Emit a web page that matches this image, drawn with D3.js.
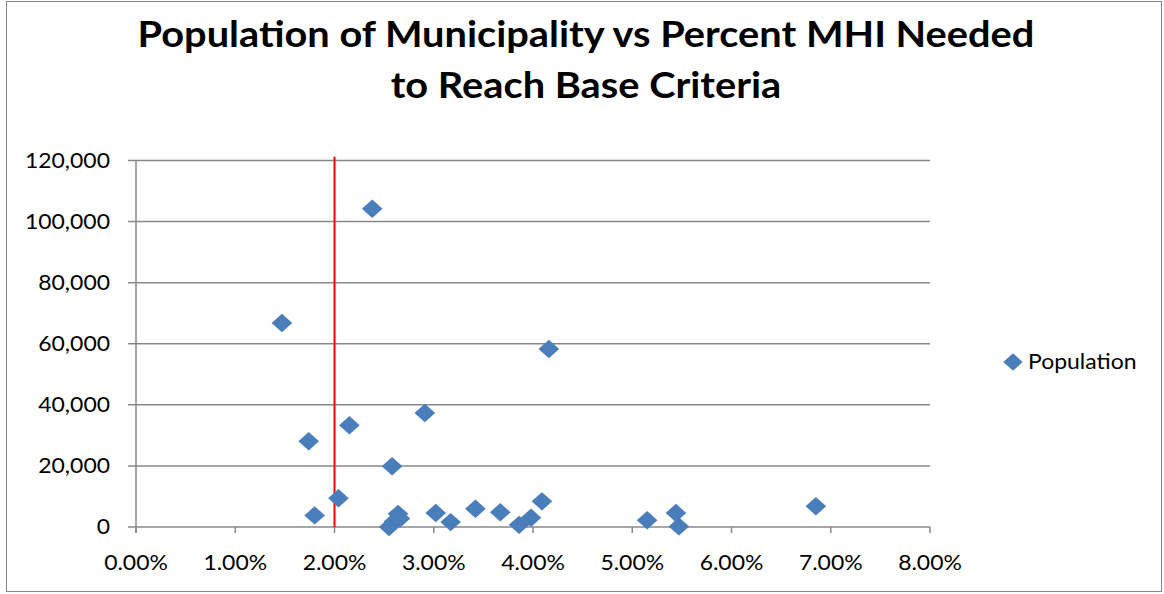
<!DOCTYPE html>
<html>
<head>
<meta charset="utf-8">
<script src="https://cdn.jsdelivr.net/npm/d3@7"></script>
<style>
  body { margin: 0; background: #fff; }
  svg text { font-family: Lato, "Open Sans", sans-serif; fill: #000; }
</style>
</head>
<body>
<div id="chart"></div>
<script>
// chart data
var titleLines = ["Population of Municipality vs Percent MHI Needed", "to Reach Base Criteria"];
var seriesName = "Population";
var percentNeeded = [1.47, 2.38, 1.74, 2.15, 1.80, 2.04, 2.91, 2.58, 4.16, 2.55, 2.60, 2.64, 2.66,
                     3.02, 3.17, 3.42, 3.67, 3.86, 3.98, 4.09, 5.15, 5.44, 5.47, 6.85];
var population = [66800, 104200, 28100, 33300, 3800, 9400, 37300, 19900, 58300, 0, 1800, 4300, 2800,
                  4600, 1600, 6000, 4800, 700, 3000, 8400, 2200, 4600, 200, 6800];
var xTicks = [0, 1, 2, 3, 4, 5, 6, 7, 8];
var yTicks = [0, 20000, 40000, 60000, 80000, 100000, 120000];
var baseCriteria = 2.0;          // red reference line (percent)
var baseLineTop = 121200;        // line runs a bit past the top gridline

var width = 1164, height = 594;
var stretch = 1.12;              // reference text is slightly wide
var blue = "#4A7EBB";
var grey = "#888888";

var svg = d3.select("#chart").append("svg")
  .attr("width", width)
  .attr("height", height);

svg.append("rect")
  .attr("x", 6.5).attr("y", 1.5)
  .attr("width", 1155).attr("height", 590)
  .attr("fill", "#fff")
  .attr("stroke", "#868686");

var x = d3.scaleLinear().domain([0, 8]).range([136, 930]);
var y = d3.scaleLinear().domain([0, 120000]).range([527, 160.5]);

// stretched text helper
function label(g, px, py, txt, anchor, size, weight) {
  return g.append("text")
    .attr("transform", "translate(" + px + "," + py + ") scale(" + stretch + ",1)")
    .attr("text-anchor", anchor)
    .style("font-size", size + "px")
    .style("font-weight", weight || "normal")
    .text(txt);
}

// title
var titleG = svg.append("g");
titleLines.forEach(function(t, i) {
  label(titleG, 586, 47 + i * 51, t, "middle", 35.5, "bold");
});

// gridlines
svg.append("g").selectAll("line")
  .data(yTicks)
  .enter().append("line")
  .attr("x1", x(0) - 8).attr("x2", x(8))
  .attr("y1", function(d) { return y(d); })
  .attr("y2", function(d) { return y(d); })
  .attr("stroke", grey)
  .attr("stroke-width", 1.5);

// y axis line
svg.append("line")
  .attr("x1", x(0)).attr("x2", x(0))
  .attr("y1", y(120000)).attr("y2", y(0) + 6)
  .attr("stroke", grey).attr("stroke-width", 1.5);

// x ticks
svg.append("g").selectAll("line")
  .data(xTicks)
  .enter().append("line")
  .attr("x1", function(d) { return x(d); })
  .attr("x2", function(d) { return x(d); })
  .attr("y1", y(0)).attr("y2", y(0) + 6)
  .attr("stroke", grey).attr("stroke-width", 1.5);

// tick labels
var fmtY = d3.format(",");
var yLab = svg.append("g");
yTicks.forEach(function(d) {
  label(yLab, 110, y(d) + 7, fmtY(d), "end", 20.5);
});
var xLab = svg.append("g");
xTicks.forEach(function(d) {
  label(xLab, x(d), 570, d.toFixed(2) + "%", "middle", 20.5);
});

// red base criteria line
svg.append("line")
  .attr("x1", x(baseCriteria)).attr("x2", x(baseCriteria))
  .attr("y1", y(0)).attr("y2", y(baseLineTop))
  .attr("stroke", "#FF0000")
  .attr("stroke-width", 2);

// diamonds
var diamond = d3.symbol().type(d3.symbolSquare).size(170);
var pts = percentNeeded.map(function(p, i) { return { p: p, v: population[i] }; });

svg.append("g").selectAll("path")
  .data(pts)
  .enter().append("path")
  .attr("d", diamond)
  .attr("transform", function(d) {
    return "translate(" + x(d.p) + "," + y(d.v) + ") scale(" + stretch + ",1) rotate(45)";
  })
  .attr("fill", blue);

// legend
var leg = svg.append("g");
leg.append("path")
  .attr("d", d3.symbol().type(d3.symbolSquare).size(150))
  .attr("transform", "translate(1013,362) scale(" + stretch + ",1) rotate(45)")
  .attr("fill", blue);
label(leg, 1028, 369, seriesName, "start", 20.5);
</script>
</body>
</html>
